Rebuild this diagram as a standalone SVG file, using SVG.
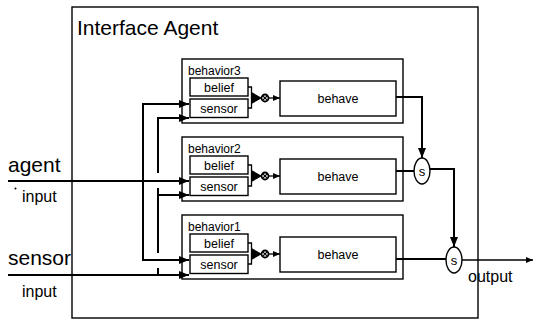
<svg xmlns="http://www.w3.org/2000/svg" width="535" height="320" viewBox="0 0 535 320">
  <style>
    .box { fill: none; stroke: #000; stroke-width: 1.4; }
    .wire { fill: none; stroke: #000; stroke-width: 2; }
    .thin { fill: none; stroke: #000; stroke-width: 1.3; }
    text { font-family: "Liberation Sans", Arial, sans-serif; fill: #000; }
    .lbl { font-size: 12px; }
    .mid { font-size: 12.5px; text-anchor: middle; }
    .big { font-size: 21px; }
    .io { font-size: 16px; }
  </style>
  <defs>
    <marker id="ah" markerWidth="10" markerHeight="8" refX="10" refY="4" orient="auto" markerUnits="userSpaceOnUse">
      <path d="M0,0 L10,4 L0,8 Z" fill="#000"/>
    </marker>
    <marker id="ahs" markerWidth="7" markerHeight="6" refX="7" refY="3" orient="auto" markerUnits="userSpaceOnUse">
      <path d="M0,0 L7,3 L0,6 Z" fill="#000"/>
    </marker>
    <!-- one behavior module: label, belief/sensor inputs, combiner, behave block -->
    <g id="module">
      <rect class="box" x="182" y="59" width="221" height="64"/>
      <rect class="box" x="190" y="78" width="58" height="18"/>
      <text class="mid" x="219" y="91.5">belief</text>
      <rect class="box" x="190" y="99" width="58" height="18.5"/>
      <text class="mid" x="219" y="112.5">sensor</text>
      <path class="thin" d="M248,87 H251.5 V108 H248"/>
      <polygon points="251.5,92 262,98 251.5,104" fill="#000"/>
      <circle cx="265" cy="98" r="3.5" fill="none" stroke="#000" stroke-width="1.8"/>
      <path d="M262.6,95.6 L267.4,100.4 M267.4,95.6 L262.6,100.4" stroke="#000" stroke-width="1.2"/>
      <line class="thin" x1="268.5" y1="98" x2="280" y2="98" marker-end="url(#ahs)"/>
      <rect class="box" x="280" y="81" width="116" height="35"/>
      <text class="mid" x="338" y="103">behave</text>
    </g>
  </defs>

  <!-- agent frame -->
  <g id="interface-agent">
    <rect class="box" x="72" y="7" width="406" height="311"/>
    <text class="big" x="77" y="35">Interface Agent</text>
  </g>

  <g id="behavior3">
    <use href="#module"/>
    <text class="lbl" x="188" y="75">behavior3</text>
  </g>
  <g id="behavior2" transform="translate(0,78)">
    <use href="#module"/>
    <text class="lbl" x="188" y="75">behavior2</text>
  </g>
  <g id="behavior1" transform="translate(0,156)">
    <use href="#module"/>
    <text class="lbl" x="188" y="75">behavior1</text>
  </g>

  <g id="suppress-upper">
    <ellipse class="box" cx="422" cy="171" rx="8" ry="13"/>
    <text x="422" y="176" font-size="13" text-anchor="middle">s</text>
  </g>
  <g id="suppress-lower">
    <ellipse class="box" cx="454" cy="260" rx="8" ry="13"/>
    <text x="454" y="265" font-size="13" text-anchor="middle">s</text>
  </g>

  <g id="inputs">
    <text class="big" x="8" y="172">agent</text>
    <circle cx="15.5" cy="188.5" r="1" fill="#000"/>
    <text class="io" x="22" y="202">input</text>
    <text class="big" x="8" y="265">sensor</text>
    <text class="io" x="22" y="297">input</text>
  </g>
  <g id="output-label">
    <text class="io" x="468" y="282">output</text>
  </g>

  <g id="connectors">
    <!-- agent input, fanned out to every sensor block -->
    <line class="wire" x1="8" y1="181" x2="189" y2="181" marker-end="url(#ah)"/>
    <path class="wire" d="M189,104 H143 V260 H189" marker-end="url(#ah)"/>
    <line class="wire" x1="160" y1="104" x2="189" y2="104" marker-end="url(#ah)"/>
    <!-- sensor input, hopping over the crossing wires -->
    <line class="wire" x1="8" y1="275" x2="189" y2="275" marker-end="url(#ah)"/>
    <path class="wire" d="M158,275 V268"/>
    <path class="wire" d="M158,253 V188"/>
    <path class="wire" d="M158,173 V118 H189" marker-end="url(#ah)"/>
    <path class="wire" d="M158,195 H189" marker-end="url(#ah)"/>
    <!-- behave outputs through the suppressors -->
    <path class="wire" d="M396,97 H422 V158" marker-end="url(#ah)"/>
    <line class="wire" x1="396" y1="171" x2="414" y2="171"/>
    <path class="wire" d="M430,169 H454 V247" marker-end="url(#ah)"/>
    <line class="wire" x1="396" y1="259" x2="446" y2="259"/>
    <line class="thin" x1="462" y1="260" x2="533" y2="260" marker-end="url(#ahs)"/>
  </g>
</svg>
